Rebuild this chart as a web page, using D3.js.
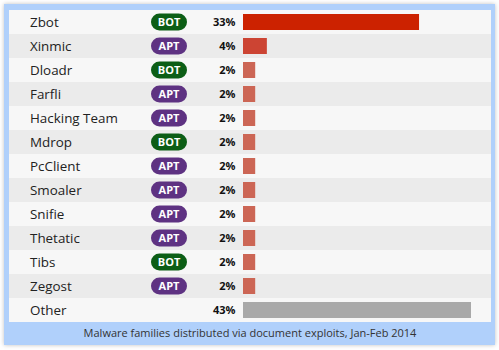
<!DOCTYPE html>
<html><head><meta charset="utf-8">
<script src="https://cdn.jsdelivr.net/npm/d3@7"></script>
<style>
html,body{margin:0;padding:0;background:#fff;}
svg{display:block;}
</style></head>
<body>
<svg id="chart" width="499" height="350"></svg>
<script>
const names = ["Zbot","Xinmic","Dloadr","Farfli","Hacking Team","Mdrop","PcClient","Smoaler","Snifie","Thetatic","Tibs","Zegost","Other"];
const types = ["BOT","APT","BOT","APT","APT","BOT","APT","APT","APT","APT","BOT","APT",""];
const values = [33.2,4.5,2.3,2.3,2.3,2.3,2.3,2.3,2.3,2.3,2.3,2.3,43];
const labels = ["33%","4%","2%","2%","2%","2%","2%","2%","2%","2%","2%","2%","43%"];
const caption = "Malware families distributed via document exploits, Jan-Feb 2014";

const svg = d3.select("#chart");
const font = "'Open Sans', sans-serif";

const defs = svg.append("defs");
const f = defs.append("filter").attr("id","sh").attr("x","-5%").attr("y","-5%").attr("width","110%").attr("height","110%");
f.append("feDropShadow").attr("dx",0).attr("dy",0).attr("stdDeviation",2).attr("flood-color","#000").attr("flood-opacity",0.25);

svg.append("rect").attr("x",4).attr("y",4).attr("width",491).attr("height",341)
  .attr("fill","#b0d0fb").attr("filter","url(#sh)");

const plotTop = 10, plotLeft = 9, innerW = 482;
const y = d3.scaleBand().domain(names).range([plotTop, 322]).padding(0);
const x = d3.scaleLinear().domain([0, 43]).range([243, 471]);
const colorScale = d3.scaleLinear().domain([2.3, 4.5, 33.2]).range(["#cc6655","#cc4433","#cc2200"]);

const rows = svg.append("g").selectAll("g").data(names).join("g")
  .attr("transform", d => `translate(0,${y(d)})`);

rows.append("rect").attr("x",plotLeft).attr("width",innerW).attr("height",y.bandwidth())
  .attr("fill",(d,i)=> i%2===0 ? "#f7f7f7" : "#ebebeb");

rows.append("text").attr("x",30).attr("y",y.bandwidth()/2).attr("dy","0.36em")
  .attr("font-family",font).attr("font-size",13.4).attr("fill","#222").text(d=>d);

const badge = rows.filter((d,i)=>types[i]!=="");
badge.append("rect").attr("x",151).attr("y",y.bandwidth()/2-8.5).attr("width",36).attr("height",17)
  .attr("rx",8.5).attr("fill",(d)=> types[names.indexOf(d)]==="BOT" ? "#0c5e16" : "#5e3282");
badge.append("text").attr("x",169).attr("y",y.bandwidth()/2).attr("dy","0.36em")
  .attr("text-anchor","middle").attr("font-family",font).attr("font-weight","bold")
  .attr("font-size",11).attr("fill","#fff").text(d=>types[names.indexOf(d)]);

rows.append("text").attr("x",235.5).attr("y",y.bandwidth()/2).attr("dy","0.36em")
  .attr("text-anchor","end").attr("font-family",font).attr("font-weight","bold")
  .attr("font-size",11).attr("fill","#111").text((d,i)=>labels[i]);

rows.append("rect").attr("x",x(0)).attr("y",y.bandwidth()/2-8).attr("height",16)
  .attr("width",(d,i)=>x(values[i])-x(0))
  .attr("fill",(d,i)=> d==="Other" ? "#a9a9a9" : colorScale(values[i]));

svg.append("text").attr("x",250).attr("y",333).attr("dy","0.36em").attr("text-anchor","middle")
  .attr("font-family",font).attr("font-size",11).attr("fill","#333").text(caption);
</script>
</body></html>
